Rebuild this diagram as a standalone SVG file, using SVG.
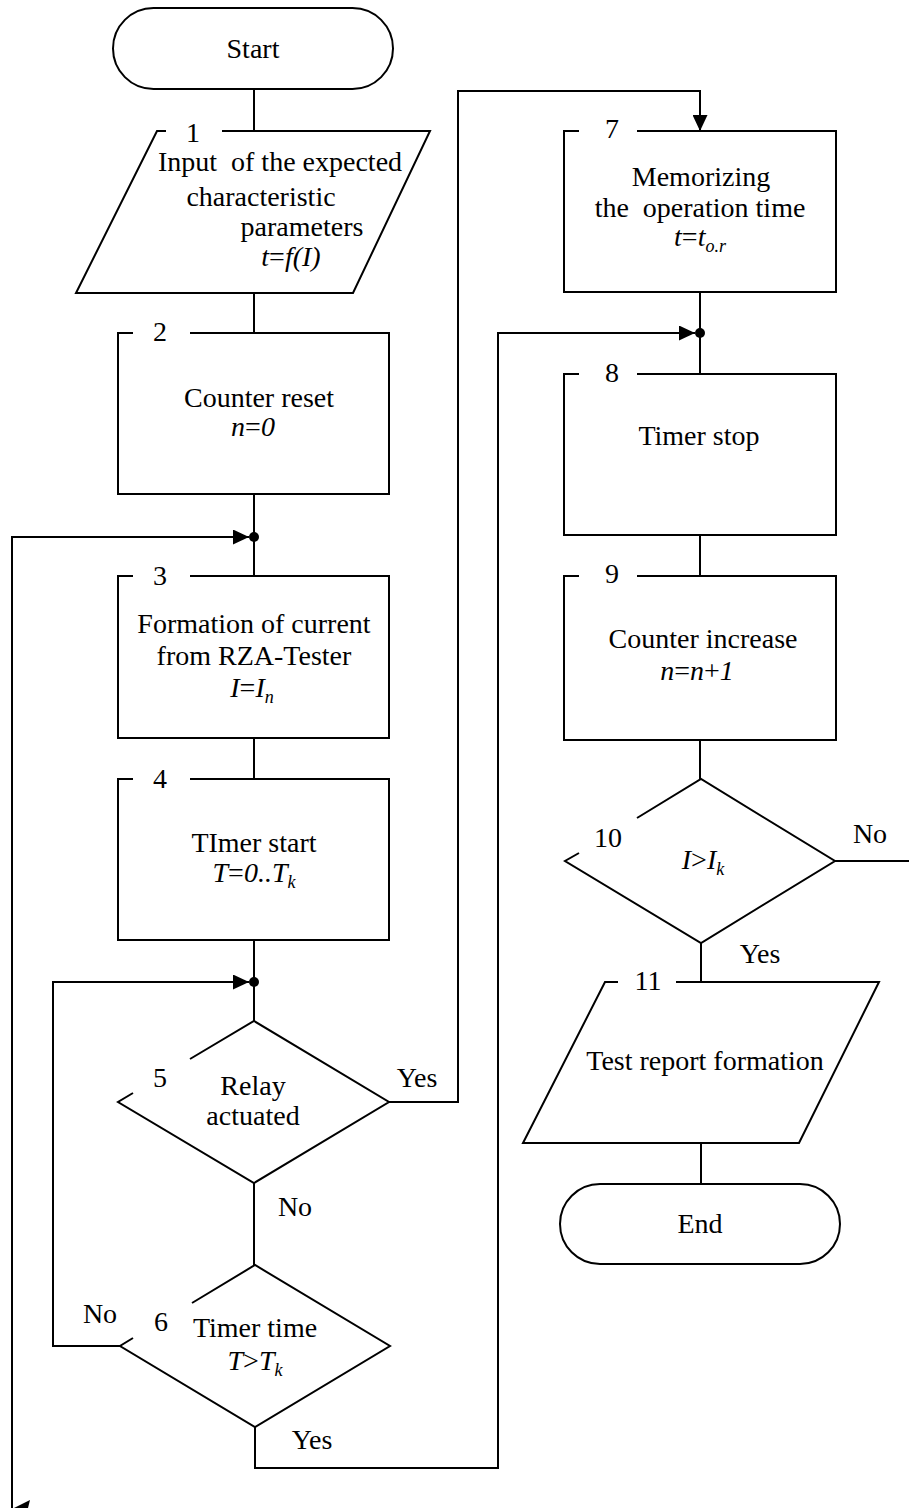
<svg xmlns="http://www.w3.org/2000/svg" width="909" height="1508" viewBox="0 0 909 1508">
<style>
.s{fill:none;stroke:#000;stroke-width:2}
text{font-family:"Liberation Serif","Times New Roman",serif;font-size:28px;fill:#000;text-anchor:middle}
.i{font-style:italic}
.u{font-style:italic;font-size:18px}
</style>
<defs>
<marker id="ah" markerUnits="userSpaceOnUse" markerWidth="16" markerHeight="15" refX="16" refY="7.5" orient="auto">
<path d="M0,0 L16,7.5 L0,15 z" fill="#000"/>
</marker>
</defs>
<rect width="909" height="1508" fill="#fff"/>
<g id="connectors" class="s">
<path d="M254,89 V131"/>
<path d="M254,293 V333"/>
<path d="M254,494 V576"/>
<path d="M12,1508 V537 H249" marker-end="url(#ah)"/>
<path d="M254,738 V779"/>
<path d="M254,940 V1021"/>
<path d="M120,1346 H53 V982 H249" marker-end="url(#ah)"/>
<path d="M389,1102 H458 V91 H700 V131" marker-end="url(#ah)"/>
<path d="M254,1183 V1265"/>
<path d="M255,1427 V1468 H498 V333 H695" marker-end="url(#ah)"/>
<path d="M700,292 V374"/>
<path d="M700,535 V576"/>
<path d="M700,740 V779"/>
<path d="M835,861 H909"/>
<path d="M701,943 V982"/>
<path d="M701,1143 V1184"/>
<circle cx="254" cy="537" r="5" fill="#000" stroke="none"/>
<circle cx="254" cy="982" r="5" fill="#000" stroke="none"/>
<circle cx="700" cy="333" r="5" fill="#000" stroke="none"/>
<polygon points="14,1508 30,1500 28,1508" fill="#000" stroke="none"/>
<text x="417" y="1087" stroke="none">Yes</text>
<text x="295" y="1216" stroke="none">No</text>
<text x="100" y="1323" stroke="none">No</text>
<text x="312" y="1449" stroke="none">Yes</text>
<text x="870" y="843" stroke="none">No</text>
<text x="760" y="963" stroke="none">Yes</text>
</g>
<g id="start">
<rect class="s" x="113" y="8" width="280" height="81" rx="40.5"/>
<text x="253" y="58">Start</text>
</g>
<g id="n1">
<path class="s" d="M166,131 H157 L76,293 H353 L430,131 H222"/>
<text x="193" y="142">1</text>
<text x="280" y="171" xml:space="preserve">Input  of the expected</text>
<text x="261" y="206">characteristic</text>
<text x="302" y="236">parameters</text>
<text x="291" y="266" class="i">t<tspan font-style="normal">=</tspan>f(I)</text>
</g>
<g id="n2">
<path class="s" d="M133,333 H118 V494 H389 V333 H190"/>
<text x="160" y="341">2</text>
<text x="259" y="407">Counter reset</text>
<text x="253" y="436" class="i">n<tspan font-style="normal">=</tspan>0</text>
</g>
<g id="n3">
<path class="s" d="M133,576 H118 V738 H389 V576 H190"/>
<text x="160" y="585">3</text>
<text x="254" y="633">Formation of current</text>
<text x="254" y="665">from RZA-Tester</text>
<text x="252" y="697" class="i">I<tspan font-style="normal">=</tspan>I<tspan class="u" dy="6">n</tspan></text>
</g>
<g id="n4">
<path class="s" d="M133,779 H118 V940 H389 V779 H190"/>
<text x="160" y="788">4</text>
<text x="254" y="852">TImer start</text>
<text x="254" y="882" class="i">T<tspan font-style="normal">=</tspan>0..T<tspan class="u" dy="6">k</tspan></text>
</g>
<g id="n5">
<path class="s" d="M190,1059 L254,1021 L389,1102 L254,1183 L118,1102 L133,1093"/>
<text x="160" y="1087">5</text>
<text x="253" y="1095">Relay</text>
<text x="253" y="1125">actuated</text>
</g>
<g id="n6">
<path class="s" d="M192,1303 L255,1265 L390,1346 L255,1427 L120,1346 L133,1338"/>
<text x="161" y="1331">6</text>
<text x="255" y="1337">Timer time</text>
<text x="255" y="1370" class="i">T<tspan font-style="normal">&gt;</tspan>T<tspan class="u" dy="6">k</tspan></text>
</g>
<g id="n7">
<path class="s" d="M579,131 H564 V292 H836 V131 H637"/>
<text x="612" y="138">7</text>
<text x="701" y="186">Memorizing</text>
<text x="700" y="217" xml:space="preserve">the  operation time</text>
<text x="700" y="246" class="i">t<tspan font-style="normal">=</tspan>t<tspan class="u" dy="6">o.r</tspan></text>
</g>
<g id="n8">
<path class="s" d="M579,374 H564 V535 H836 V374 H637"/>
<text x="612" y="382">8</text>
<text x="699" y="445">Timer stop</text>
</g>
<g id="n9">
<path class="s" d="M579,576 H564 V740 H836 V576 H637"/>
<text x="612" y="583">9</text>
<text x="703" y="648">Counter increase</text>
<text x="697" y="680" class="i">n<tspan font-style="normal">=</tspan>n<tspan font-style="normal">+</tspan>1</text>
</g>
<g id="n10">
<path class="s" d="M637,818 L701,779 L835,861 L701,943 L565,861 L579,853"/>
<text x="608" y="847">10</text>
<text x="703" y="869" class="i">I<tspan font-style="normal">&gt;</tspan>I<tspan class="u" dy="6">k</tspan></text>
</g>
<g id="n11">
<path class="s" d="M618,982 H605 L523,1143 H799 L879,982 H676"/>
<text x="648" y="990">11</text>
<text x="705" y="1070">Test report formation</text>
</g>
<g id="end">
<rect class="s" x="560" y="1184" width="280" height="80" rx="40"/>
<text x="700" y="1233">End</text>
</g>
</svg>
